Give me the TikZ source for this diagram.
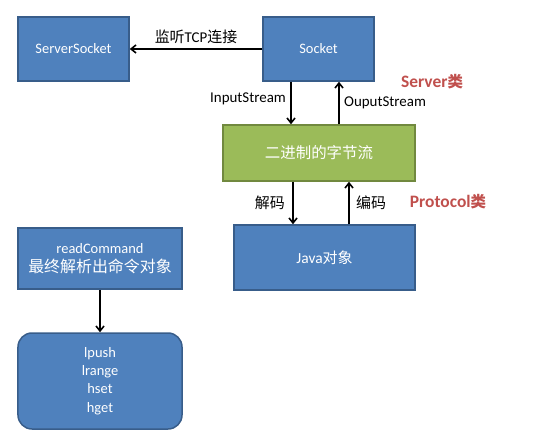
\documentclass[tikz,border=0pt]{standalone}
\usepackage{fontspec}
\setmainfont{Carlito}
\newfontfamily\cjk{Noto Sans CJK SC}
\usetikzlibrary{arrows.meta, positioning}
\definecolor{cblue}{HTML}{4F81BD}
\definecolor{cblueline}{HTML}{385D8A}
\definecolor{cgreen}{HTML}{9BBB59}
\definecolor{cgreenline}{HTML}{71893F}
\definecolor{cred}{HTML}{C0504D}
\newcommand{\zh}[1]{{\cjk\fontsize{15}{17}\selectfont #1}}
\tikzset{
  every picture/.style={font=\fontsize{14.5}{18.5}\selectfont},
  blk/.style={draw=cblueline, fill=cblue, line width=1.5bp, text=white, align=center, inner sep=2bp},
  grn/.style={draw=cgreenline, fill=cgreen, line width=1.5bp, text=white, align=center},
  arrow/.style={-{Straight Barb[length=5bp, width=8bp]}, draw=black, line width=1.6bp},
  lbl/.style={font=\fontsize{15}{17}\selectfont},
  tag/.style={font=\fontsize{17.5}{19}\selectfont\bfseries, text=cred},
}
\begin{document}
\begin{tikzpicture}[x=1bp, y=-1bp]
  \useasboundingbox (0,0) rectangle (540,440);
  % network side
  \node[blk, minimum width=111bp, minimum height=64bp] (srvsock) at (73.5,49) {ServerSocket};
  \node[blk, minimum width=111bp, minimum height=64bp] (sock) at (318.5,49) {Socket};
  \node[grn, minimum width=192bp, minimum height=56bp] (bytes) at (319,153) {\cjk\fontsize{15.5}{17}\selectfont 二进制的字节流};
  \node[blk, minimum width=181bp, minimum height=65bp] (javaobj) at (324.5,257.5) {\fontsize{15.5}{17}\selectfont Java\zh{对象}};
  % command side
  \node[blk, minimum width=164bp, minimum height=61bp] (readcmd) at (100,258.5) {readCommand\\{\cjk\fontsize{16}{18}\selectfont 最终解析出命令对象}};
  \node[blk, minimum width=164bp, minimum height=96bp, rounded corners=14bp] (cmds) at (100,381) {lpush\\lrange\\hset\\hget};
  % connectors
  \draw[arrow] (sock) -- node[lbl, above=1bp] {\zh{监听}TCP\zh{连接}} (srvsock);
  \draw[arrow] (sock.south -| 291,0) -- node[lbl, left=1bp, pos=0.4] {InputStream} (bytes.north -| 291,0);
  \draw[arrow] (bytes.north -| 339,0) -- node[lbl, right=1bp, pos=0.5] {OuputStream} (sock.south -| 339,0);
  \draw[arrow] (bytes.south -| 293,0) -- node[lbl, left=4bp, pos=0.5] {\zh{解码}} (javaobj.north -| 293,0);
  \draw[arrow] (javaobj.north -| 349,0) -- node[lbl, right=3bp, pos=0.5] {\zh{编码}} (bytes.south -| 349,0);
  \draw[arrow] (readcmd) -- (cmds);
  % class tags
  \node[tag] (srvtag) at (432,82) {Server{\cjk\fontsize{15.5}{17}\selectfont 类}};
  \node[tag] (prototag) at (448,202) {Protocol{\cjk\fontsize{15.5}{17}\selectfont 类}};
\end{tikzpicture}
\end{document}
